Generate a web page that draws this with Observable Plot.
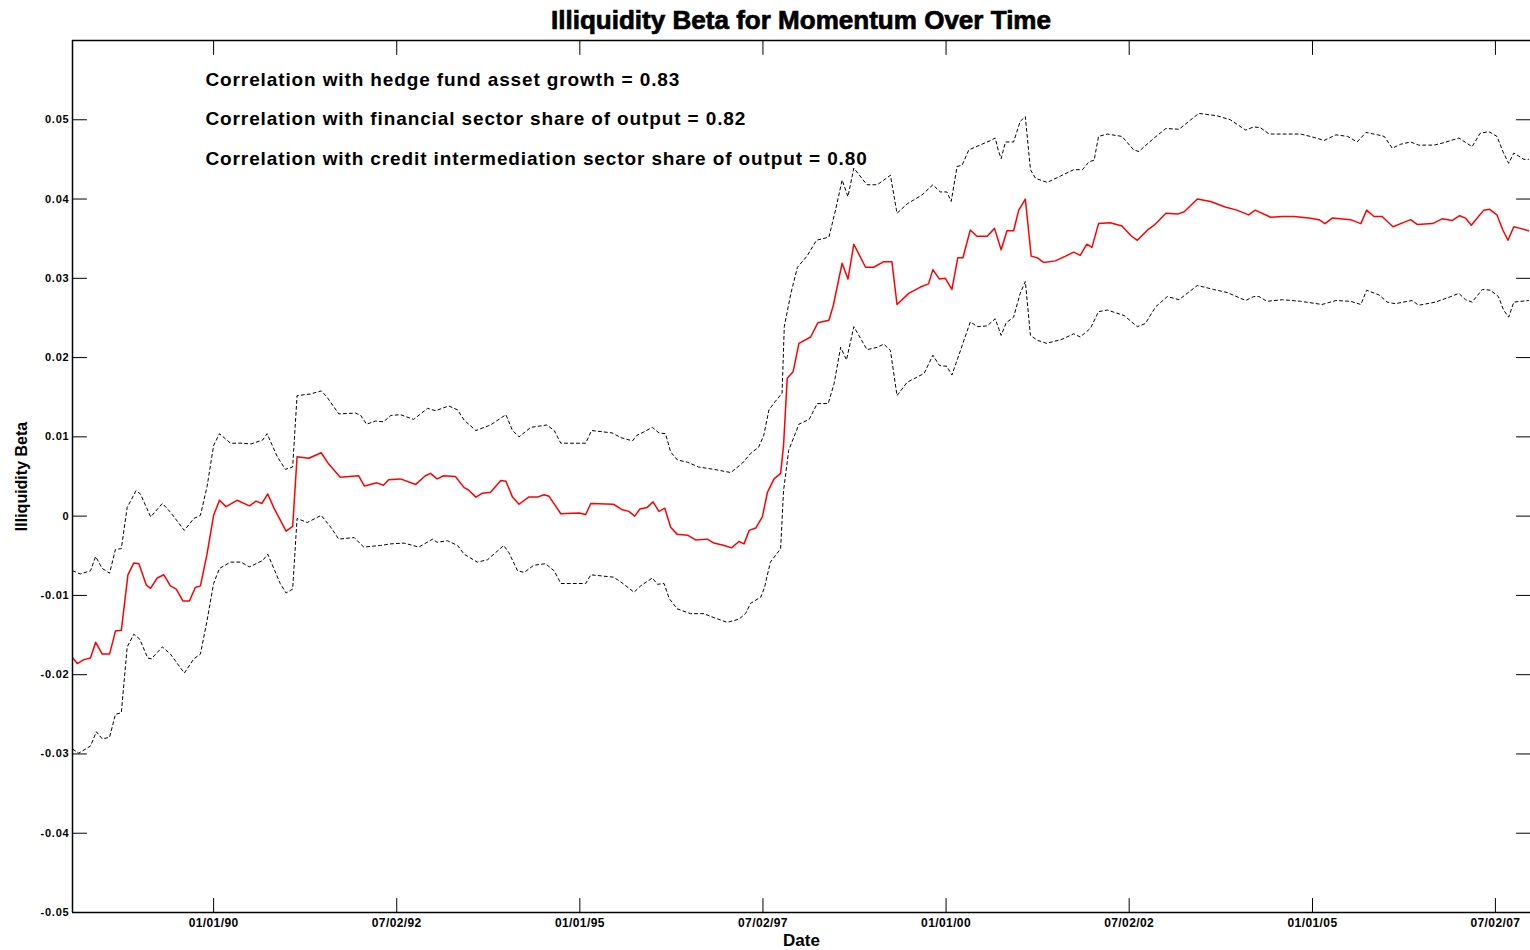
<!DOCTYPE html>
<html>
<head>
<meta charset="utf-8">
<script src="https://cdn.jsdelivr.net/npm/d3@7"></script>
<script src="https://cdn.jsdelivr.net/npm/@observablehq/plot@0.6"></script>
<style>
  body { margin: 0; background: #ffffff; }
  #wrap { position: relative; width: 1530px; height: 950px; background: #ffffff; }
  #wrap > svg { position: absolute; left: 0; top: 0; }
</style>
</head>
<body>
<div id="wrap"></div>
<script>
// ---------------- data ----------------
const titleText = "Illiquidity Beta for Momentum Over Time";
const xLabel = "Date";
const yLabel = "Illiquidity Beta";
const annotations = [
  "Correlation with hedge fund asset growth = 0.83",
  "Correlation with financial sector share of output = 0.82",
  "Correlation with credit intermediation sector share of output = 0.80"
];

const xTickDates = ["1990-01-01","1992-07-02","1995-01-01","1997-07-02","2000-01-01","2002-07-02","2005-01-01","2007-07-02"];
const xTickLabels = ["01/01/90","07/02/92","01/01/95","07/02/97","01/01/00","07/02/02","01/01/05","07/02/07"];
const yTicks = [-0.05,-0.04,-0.03,-0.02,-0.01,0,0.01,0.02,0.03,0.04,0.05];
const yTickLabels = ["-0.05","-0.04","-0.03","-0.02","-0.01","0","0.01","0.02","0.03","0.04","0.05"];

// decimal-year dates and values of the illiquidity beta (red line)
const betaDates = [
  1988.08,1988.14,1988.23,1988.32,1988.39,1988.48,1988.58,1988.66,1988.74,1988.83,
  1988.91,1988.98,1989.08,1989.14,1989.23,1989.32,1989.41,1989.49,1989.58,1989.67,
  1989.75,1989.82,1989.91,1990.00,1990.08,1990.17,1990.32,1990.49,1990.58,1990.66,
  1990.74,1990.82,1990.99,1991.08,1991.14,1991.30,1991.47,1991.57,1991.73,1991.98,
  1992.06,1992.23,1992.32,1992.39,1992.55,1992.76,1992.89,1992.96,1993.05,1993.14,
  1993.30,1993.42,1993.48,1993.58,1993.67,1993.78,1993.92,1993.99,1994.08,1994.17,
  1994.30,1994.42,1994.51,1994.58,1994.74,1994.99,1995.08,1995.15,1995.46,1995.58,
  1995.67,1995.75,1995.82,1995.92,1996.00,1996.08,1996.16,1996.24,1996.33,1996.47,
  1996.58,1996.74,1996.83,1996.97,1997.07,1997.17,1997.24,1997.31,1997.40,1997.49,
  1997.56,1997.65,1997.74,1997.78,1997.83,1997.91,1997.99,1998.15,1998.25,1998.40,
  1998.46,1998.58,1998.66,1998.74,1998.90,1999.01,1999.15,1999.26,1999.33,1999.49,
  1999.65,1999.76,1999.82,1999.91,1999.99,2000.08,2000.16,2000.23,2000.33,2000.42,
  2000.56,2000.66,2000.75,2000.83,2000.92,2000.99,2001.08,2001.16,2001.24,2001.33,
  2001.49,2001.63,2001.74,2001.83,2001.92,2001.99,2002.08,2002.24,2002.40,2002.52,
  2002.61,2002.75,2002.84,2003.00,2003.16,2003.25,2003.43,2003.61,2003.81,2003.97,
  2004.13,2004.22,2004.43,2004.59,2004.75,2004.95,2005.09,2005.17,2005.27,2005.52,
  2005.66,2005.74,2005.84,2005.95,2006.10,2006.23,2006.34,2006.43,2006.64,2006.77,
  2006.91,2007.01,2007.09,2007.17,2007.25,2007.34,2007.42,2007.52,2007.60,2007.67,
  2007.75,2007.84,2007.95
];
const betaValues = [
  -0.0179,-0.0186,-0.0181,-0.0179,-0.0159,-0.0174,-0.0174,-0.0145,-0.0144,-0.0074,
  -0.0059,-0.0060,-0.0087,-0.0091,-0.0078,-0.0074,-0.0088,-0.0092,-0.0107,-0.0107,
  -0.0090,-0.0088,-0.0048,0.0001,0.0020,0.0012,0.0020,0.0013,0.0019,0.0016,
  0.0028,0.0011,-0.0019,-0.0013,0.0075,0.0073,0.0080,0.0066,0.0049,0.0051,
  0.0038,0.0042,0.0039,0.0046,0.0047,0.0040,0.0051,0.0054,0.0047,0.0051,
  0.0050,0.0036,0.0033,0.0024,0.0029,0.0030,0.0045,0.0044,0.0024,0.0015,
  0.0024,0.0024,0.0027,0.0025,0.0003,0.0004,0.0002,0.0016,0.0015,0.0008,
  0.0006,0.0000,0.0009,0.0011,0.0018,0.0006,0.0010,-0.0014,-0.0023,-0.0024,
  -0.0030,-0.0029,-0.0034,-0.0037,-0.0040,-0.0032,-0.0035,-0.0018,-0.0015,-0.0001,
  0.0030,0.0047,0.0054,0.0089,0.0174,0.0182,0.0218,0.0226,0.0244,0.0247,
  0.0266,0.0319,0.0299,0.0343,0.0314,0.0314,0.0321,0.0321,0.0267,0.0281,
  0.0289,0.0293,0.0311,0.0299,0.0300,0.0286,0.0326,0.0326,0.0361,0.0353,
  0.0353,0.0363,0.0336,0.0360,0.0360,0.0386,0.0400,0.0328,0.0326,0.0320,
  0.0322,0.0328,0.0333,0.0329,0.0343,0.0339,0.0369,0.0370,0.0366,0.0354,
  0.0348,0.0361,0.0367,0.0382,0.0381,0.0384,0.0400,0.0397,0.0390,0.0386,
  0.0380,0.0386,0.0377,0.0378,0.0378,0.0376,0.0374,0.0369,0.0376,0.0374,
  0.0369,0.0386,0.0378,0.0378,0.0365,0.0370,0.0374,0.0368,0.0369,0.0375,
  0.0373,0.0379,0.0376,0.0367,0.0376,0.0386,0.0387,0.0380,0.0361,0.0348,
  0.0365,0.0363,0.0360
];

// upper confidence band (dotted black)
const upperDates = [
  1988.08,1988.18,1988.32,1988.39,1988.48,1988.58,1988.66,1988.74,1988.82,1988.94,
  1989.00,1989.14,1989.30,1989.41,1989.60,1989.73,1989.82,1989.91,1990.00,1990.08,
  1990.23,1990.39,1990.51,1990.67,1990.73,1990.87,1990.98,1991.08,1991.14,1991.32,
  1991.47,1991.55,1991.71,1991.94,1992.01,1992.09,1992.21,1992.32,1992.42,1992.55,
  1992.73,1992.92,1993.03,1993.21,1993.33,1993.42,1993.58,1993.78,1993.99,1994.08,
  1994.17,1994.33,1994.55,1994.65,1994.74,1995.08,1995.16,1995.44,1995.56,1995.72,
  1995.78,1995.87,1995.99,1996.08,1996.17,1996.24,1996.33,1996.47,1996.62,1996.83,
  1997.06,1997.22,1997.33,1997.44,1997.51,1997.58,1997.67,1997.76,1997.79,1997.88,
  1997.97,1998.10,1998.23,1998.40,1998.49,1998.58,1998.66,1998.74,1998.92,1999.06,
  1999.24,1999.33,1999.47,1999.67,1999.82,1999.92,2000.01,2000.07,2000.15,2000.22,
  2000.31,2000.61,2000.67,2000.71,2000.75,2000.81,2000.92,2001.01,2001.08,2001.15,
  2001.22,2001.38,2001.56,2001.74,2001.86,2001.95,2002.02,2002.08,2002.20,2002.40,
  2002.56,2002.63,2002.84,2003.00,2003.18,2003.34,2003.45,2003.70,2003.88,2004.09,
  2004.20,2004.29,2004.41,2004.84,2004.97,2005.16,2005.32,2005.48,2005.61,2005.73,
  2005.89,2005.98,2006.09,2006.20,2006.34,2006.45,2006.66,2006.79,2007.00,2007.18,
  2007.29,2007.41,2007.52,2007.61,2007.68,2007.75,2007.89,2007.95
];
const upperValues = [
  -0.0069,-0.0073,-0.0069,-0.0051,-0.0066,-0.0072,-0.0042,-0.0041,0.0011,0.0032,
  0.0028,-0.0001,0.0016,0.0005,-0.0018,-0.0003,0.0001,0.0037,0.0089,0.0104,
  0.0092,0.0092,0.0091,0.0096,0.0104,0.0075,0.0059,0.0062,0.0152,0.0154,
  0.0158,0.0150,0.0129,0.0130,0.0127,0.0116,0.0120,0.0119,0.0127,0.0128,
  0.0122,0.0136,0.0133,0.0139,0.0134,0.0121,0.0108,0.0115,0.0128,0.0108,
  0.0100,0.0112,0.0115,0.0108,0.0092,0.0092,0.0108,0.0105,0.0099,0.0095,
  0.0102,0.0106,0.0112,0.0105,0.0104,0.0081,0.0071,0.0068,0.0062,0.0059,
  0.0055,0.0067,0.0079,0.0087,0.0102,0.0134,0.0145,0.0155,0.0239,0.0281,
  0.0314,0.0328,0.0348,0.0352,0.0386,0.0424,0.0403,0.0439,0.0418,0.0418,
  0.0430,0.0382,0.0394,0.0405,0.0418,0.0409,0.0409,0.0397,0.0441,0.0443,
  0.0462,0.0474,0.0477,0.0462,0.0451,0.0472,0.0472,0.0498,0.0504,0.0437,
  0.0426,0.0421,0.0429,0.0437,0.0437,0.0447,0.0449,0.0479,0.0482,0.0479,
  0.0462,0.0460,0.0477,0.0489,0.0488,0.0500,0.0508,0.0505,0.0500,0.0487,
  0.0491,0.0490,0.0482,0.0482,0.0479,0.0474,0.0481,0.0479,0.0472,0.0484,
  0.0481,0.0479,0.0464,0.0469,0.0472,0.0468,0.0468,0.0471,0.0477,0.0466,
  0.0483,0.0485,0.0479,0.0458,0.0445,0.0458,0.0450,0.0450
];

// lower confidence band (dotted black)
const lowerDates = [
  1988.08,1988.16,1988.32,1988.40,1988.48,1988.58,1988.66,1988.74,1988.82,1988.91,
  1988.99,1989.10,1989.15,1989.30,1989.41,1989.60,1989.73,1989.82,1989.91,1990.00,
  1990.08,1990.23,1990.37,1990.49,1990.67,1990.74,1990.91,1990.99,1991.08,1991.14,
  1991.28,1991.47,1991.60,1991.71,1991.92,1992.05,1992.28,1992.42,1992.60,1992.80,
  1992.99,1993.05,1993.19,1993.33,1993.42,1993.60,1993.74,1993.96,1994.03,1994.15,
  1994.24,1994.37,1994.53,1994.65,1994.74,1995.08,1995.15,1995.46,1995.56,1995.74,
  1995.83,1995.99,1996.06,1996.15,1996.22,1996.33,1996.51,1996.69,1996.83,1997.01,
  1997.17,1997.26,1997.33,1997.47,1997.52,1997.60,1997.74,1997.78,1997.85,1997.94,
  1997.99,1998.13,1998.24,1998.39,1998.47,1998.56,1998.64,1998.74,1998.92,1999.06,
  1999.15,1999.24,1999.33,1999.47,1999.70,1999.82,1999.91,2000.01,2000.08,2000.20,
  2000.33,2000.43,2000.56,2000.67,2000.75,2000.82,2000.92,2001.01,2001.08,2001.15,
  2001.24,2001.37,2001.58,2001.74,2001.83,2001.97,2002.08,2002.20,2002.43,2002.61,
  2002.72,2002.86,2003.02,2003.18,2003.29,2003.43,2003.65,2003.84,2004.09,2004.20,
  2004.27,2004.38,2004.59,2004.84,2005.13,2005.32,2005.52,2005.66,2005.74,2005.91,
  2006.02,2006.13,2006.36,2006.45,2006.68,2006.89,2007.00,2007.09,2007.18,2007.32,
  2007.43,2007.54,2007.61,2007.68,2007.75,2007.95
];
const lowerValues = [
  -0.0294,-0.0299,-0.0290,-0.0272,-0.0281,-0.0279,-0.0250,-0.0248,-0.0165,-0.0149,
  -0.0155,-0.0179,-0.0180,-0.0165,-0.0174,-0.0198,-0.0180,-0.0174,-0.0132,-0.0085,
  -0.0066,-0.0058,-0.0058,-0.0064,-0.0056,-0.0048,-0.0085,-0.0097,-0.0092,-0.0003,
  -0.0008,0.0001,-0.0014,-0.0029,-0.0027,-0.0039,-0.0037,-0.0035,-0.0034,-0.0039,
  -0.0029,-0.0033,-0.0031,-0.0037,-0.0048,-0.0058,-0.0055,-0.0037,-0.0046,-0.0069,
  -0.0071,-0.0062,-0.0060,-0.0069,-0.0085,-0.0085,-0.0074,-0.0077,-0.0083,-0.0096,
  -0.0088,-0.0078,-0.0086,-0.0085,-0.0104,-0.0117,-0.0123,-0.0123,-0.0128,-0.0134,
  -0.0130,-0.0123,-0.0110,-0.0102,-0.0090,-0.0058,-0.0041,0.0032,0.0083,0.0104,
  0.0116,0.0122,0.0142,0.0142,0.0167,0.0213,0.0197,0.0239,0.0210,0.0213,
  0.0217,0.0209,0.0152,0.0169,0.0180,0.0203,0.0190,0.0189,0.0178,0.0210,
  0.0245,0.0239,0.0240,0.0249,0.0228,0.0244,0.0251,0.0281,0.0296,0.0228,
  0.0222,0.0218,0.0223,0.0230,0.0226,0.0237,0.0258,0.0260,0.0253,0.0239,
  0.0243,0.0264,0.0277,0.0273,0.0281,0.0291,0.0286,0.0282,0.0272,0.0277,
  0.0277,0.0271,0.0273,0.0271,0.0267,0.0272,0.0271,0.0267,0.0285,0.0279,
  0.0270,0.0268,0.0272,0.0266,0.0270,0.0277,0.0281,0.0273,0.0270,0.0286,
  0.0285,0.0277,0.0260,0.0251,0.0270,0.0272
];

// ---------------- build ----------------
function toDate(y) {
  const yr = Math.floor(y);
  const s = Date.UTC(yr, 0, 1), e = Date.UTC(yr + 1, 0, 1);
  return new Date(s + (y - yr) * (e - s));
}
const zip = (ds, vs) => ds.map((d, i) => ({date: toDate(d), value: vs[i]}));
const beta = zip(betaDates, betaValues);
const upper = zip(upperDates, upperValues);
const lower = zip(lowerDates, lowerValues);

const xTicks = xTickDates.map(s => d3.utcParse("%Y-%m-%d")(s));
const xLabelOf = new Map(xTicks.map((d, i) => [+d, xTickLabels[i]]));
const yLabelOf = new Map(yTicks.map((d, i) => [d, yTickLabels[i]]));

const xDomain = [toDate(1988.075), toDate(2007.978)];
const yDomain = [-0.05, 0.06];
const font = "'Liberation Sans', Arial, Helvetica, sans-serif";
const tickShape = {draw(context, l) { context.moveTo(0, 0); context.lineTo(0, -l); }};
const tickLen = 14;

const chart = Plot.plot({
  width: 1530,
  height: 950,
  marginLeft: 72,
  marginRight: 0,
  marginTop: 40,
  marginBottom: 38,
  style: {fontFamily: font, background: "#ffffff", color: "#000000"},
  x: {type: "utc", domain: xDomain},
  y: {domain: yDomain},
  marks: [
    Plot.line(upper, {x: "date", y: "value", stroke: "#000000", strokeWidth: 1, strokeDasharray: "3,3"}),
    Plot.line(lower, {x: "date", y: "value", stroke: "#000000", strokeWidth: 1, strokeDasharray: "3,3"}),
    Plot.line(beta, {x: "date", y: "value", stroke: "#ff0000", strokeWidth: 1.5}),
    Plot.ruleY(yDomain, {stroke: "#000000", strokeWidth: 1.5}),
    Plot.ruleX([xDomain[0]], {stroke: "#000000", strokeWidth: 1.5}),
    // inward tick marks on all four sides
    Plot.vector(xTicks, {x: d => d, frameAnchor: "bottom", length: tickLen, rotate: 0, anchor: "start", shape: tickShape, stroke: "#000000", strokeWidth: 1}),
    Plot.vector(xTicks, {x: d => d, frameAnchor: "top", length: tickLen, rotate: 180, anchor: "start", shape: tickShape, stroke: "#000000", strokeWidth: 1}),
    Plot.vector(yTicks, {y: d => d, frameAnchor: "left", length: tickLen, rotate: 90, anchor: "start", shape: tickShape, stroke: "#000000", strokeWidth: 1}),
    Plot.vector(yTicks, {y: d => d, frameAnchor: "right", length: tickLen, rotate: -90, anchor: "start", shape: tickShape, stroke: "#000000", strokeWidth: 1}),
    Plot.axisX({ticks: xTicks, tickSize: 0, tickPadding: 6, tickFormat: d => xLabelOf.get(+d), label: null, fontSize: 12, fontWeight: "bold", ariaDescription: "xticklabels"}),
    Plot.axisY({ticks: yTicks, tickSize: 0, tickPadding: 3, tickFormat: d => yLabelOf.get(d), label: null, fontSize: 11, fontWeight: "bold", ariaDescription: "yticklabels"}),
    Plot.text([annotations.join("\n")], {frameAnchor: "top-left", dx: 133, dy: 17, lineAnchor: "top", lineHeight: 2.08, textAnchor: "start", fontSize: 19, fontWeight: "bold", fill: "#000000", ariaDescription: "annotations"}),
    Plot.text([yLabel], {frameAnchor: "left", rotate: -90, dx: -51, textAnchor: "middle", lineAnchor: "middle", fontSize: 16, fontWeight: "bold", fill: "#000000"}),
    Plot.text([xLabel], {frameAnchor: "bottom", dy: 28, textAnchor: "middle", lineAnchor: "middle", fontSize: 17, fontWeight: "bold", fill: "#000000"})
  ]
});

d3.select(chart).selectAll('g[aria-description="annotations"] text').style("letter-spacing", "0.88px");
d3.select(chart).selectAll('g[aria-description="xticklabels"] text').style("letter-spacing", "0.4px");
d3.select(chart).selectAll('g[aria-description="yticklabels"] text').style("letter-spacing", "0.8px");

const wrap = document.getElementById("wrap");
wrap.appendChild(chart);

// title, added above the plot area
const t = d3.select(wrap).append("svg")
  .attr("width", 1530).attr("height", 40)
  .style("position", "absolute").style("left", "0px").style("top", "0px");
t.append("text")
  .attr("x", 801).attr("y", 29)
  .attr("text-anchor", "middle")
  .attr("font-family", font)
  .attr("font-weight", "bold")
  .attr("font-size", 26)
  .attr("fill", "#000000")
  .attr("stroke", "#000000")
  .attr("stroke-width", 0.7)
  .attr("textLength", 500)
  .attr("lengthAdjust", "spacingAndGlyphs")
  .text(titleText);
</script>
</body>
</html>
